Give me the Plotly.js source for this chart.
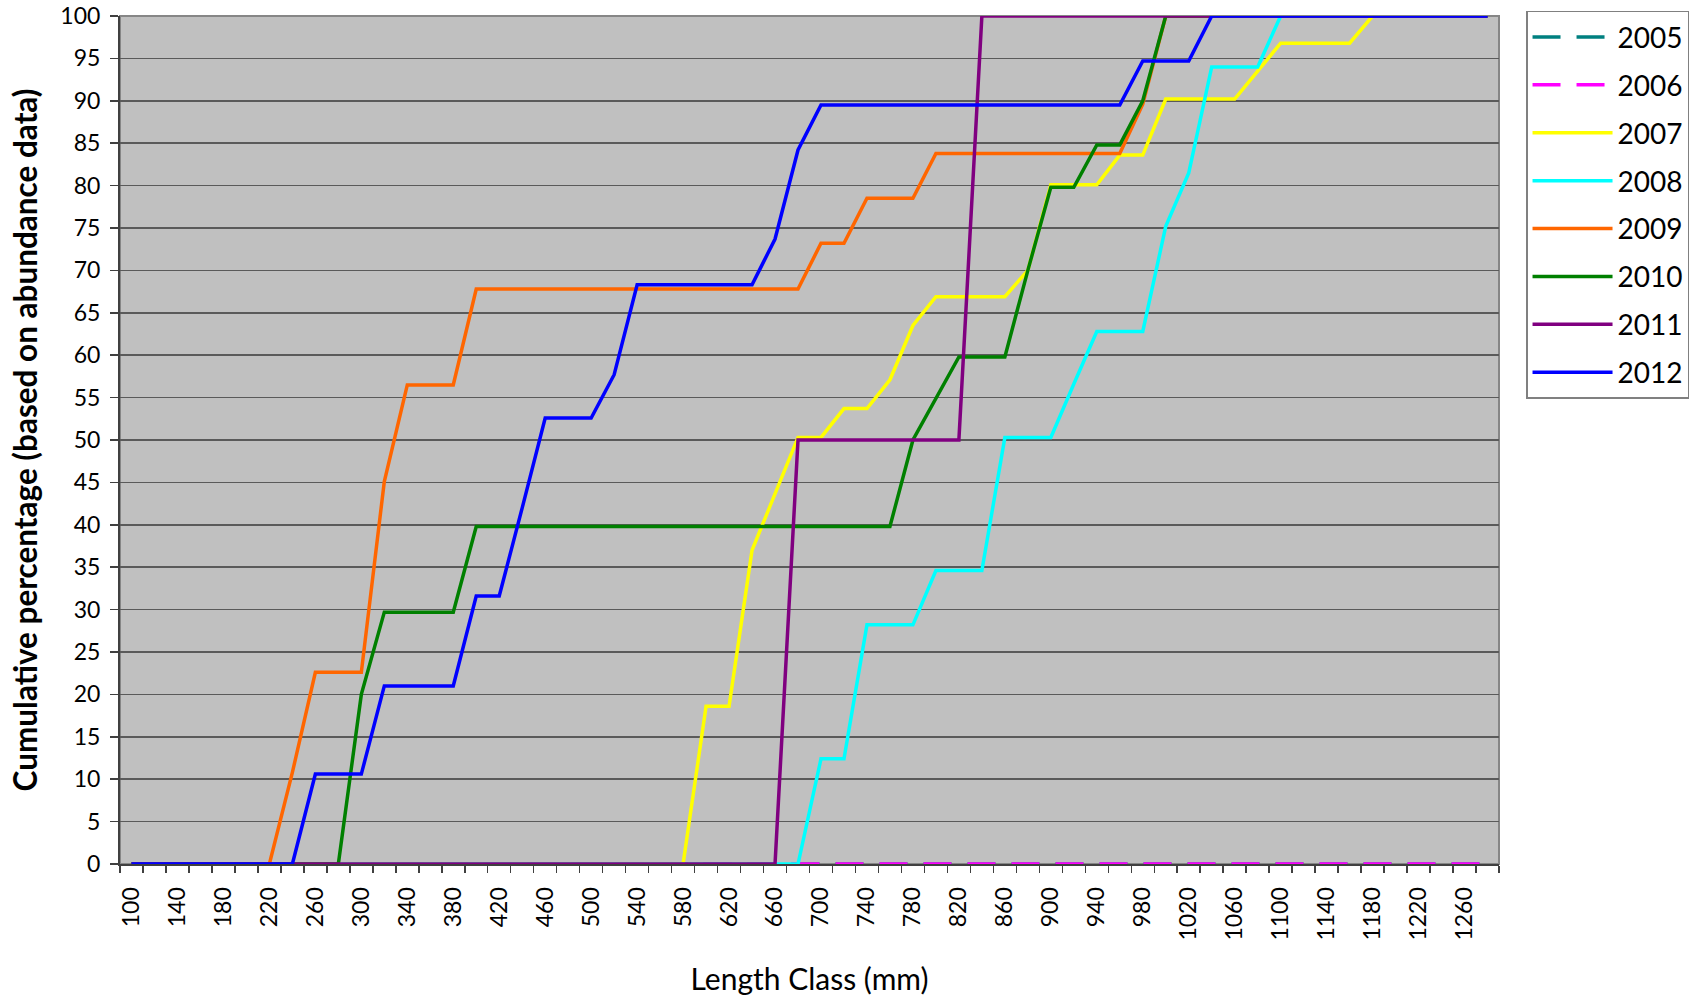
<!DOCTYPE html>
<html>
<head>
<meta charset="utf-8">
<script src="https://cdn.plot.ly/plotly-3.0.1.min.js"></script>
<style>
  html, body { margin: 0; padding: 0; background: #ffffff; }
  #chart { width: 1702px; height: 996px; }
</style>
</head>
<body>
<div id="chart"></div>
<script>
// Length classes (mm), one category every 20 mm
const lengthClasses = [100,120,140,160,180,200,220,240,260,280,300,320,340,360,380,400,420,440,460,480,
  500,520,540,560,580,600,620,640,660,680,700,720,740,760,780,800,820,840,860,880,
  900,920,940,960,980,1000,1020,1040,1060,1080,1100,1120,1140,1160,1180,1200,1220,1240,1260,1280];

// Tick labels shown on the x axis
const xTickLabels = [100,140,180,220,260,300,340,380,420,460,500,540,580,620,660,700,740,780,820,860,
  900,940,980,1020,1060,1100,1140,1180,1220,1260];

const seriesNames = ['2005','2006','2007','2008','2009','2010','2011','2012'];

// Cumulative percentage per length class
const y2005 = [0,0,0,0,0,0,0,0,0,0,0,0,0,0,0,0,0,0,0,0,
  0,0,0,0,0,0,0,0,0,0,0,0,0,0,0,0,0,0,0,0,
  0,0,0,0,0,0,0,0,0,0,0,0,0,0,0,0,0,0,0,0];
const y2006 = [0,0,0,0,0,0,0,0,0,0,0,0,0,0,0,0,0,0,0,0,
  0,0,0,0,0,0,0,0,0,0,0,0,0,0,0,0,0,0,0,0,
  0,0,0,0,0,0,0,0,0,0,0,0,0,0,0,0,0,0,0,0];
const y2007 = [0,0,0,0,0,0,0,0,0,0,0,0,0,0,0,0,0,0,0,0,
  0,0,0,0,0,18.6,18.6,37.0,43.7,50.3,50.3,53.7,53.7,57.1,63.5,66.9,66.9,66.9,66.9,70.0,
  80.1,80.1,80.1,83.6,83.6,90.2,90.2,90.2,90.2,93.5,96.8,96.8,96.8,96.8,100,100,100,100,100,100];
const y2008 = [0,0,0,0,0,0,0,0,0,0,0,0,0,0,0,0,0,0,0,0,
  0,0,0,0,0,0,0,0,0,0,12.4,12.4,28.2,28.2,28.2,34.6,34.6,34.6,50.3,50.3,
  50.3,56.6,62.8,62.8,62.8,75.2,81.5,94.0,94.0,94.0,100,100,100,100,100,100,100,100,100,100];
const y2009 = [0,0,0,0,0,0,0,10.8,22.6,22.6,22.6,45.1,56.5,56.5,56.5,67.8,67.8,67.8,67.8,67.8,
  67.8,67.8,67.8,67.8,67.8,67.8,67.8,67.8,67.8,67.8,73.2,73.2,78.5,78.5,78.5,83.8,83.8,83.8,83.8,83.8,
  83.8,83.8,83.8,83.8,89.6,100,100,100,100,100,100,100,100,100,100,100,100,100,100,100];
const y2010 = [0,0,0,0,0,0,0,0,0,0,20.0,29.7,29.7,29.7,29.7,39.8,39.8,39.8,39.8,39.8,
  39.8,39.8,39.8,39.8,39.8,39.8,39.8,39.8,39.8,39.8,39.8,39.8,39.8,39.8,50.0,55.0,59.8,59.8,59.8,70.0,
  79.8,79.8,84.8,84.8,90.0,100,100,100,100,100,100,100,100,100,100,100,100,100,100,100];
const y2011 = [0,0,0,0,0,0,0,0,0,0,0,0,0,0,0,0,0,0,0,0,
  0,0,0,0,0,0,0,0,0,50,50,50,50,50,50,50,50,100,100,100,
  100,100,100,100,100,100,100,100,100,100,100,100,100,100,100,100,100,100,100,100];
const y2012 = [0,0,0,0,0,0,0,0,10.6,10.6,10.6,21.0,21.0,21.0,21.0,31.6,31.6,42.0,52.6,52.6,
  52.6,57.7,68.3,68.3,68.3,68.3,68.3,68.3,73.7,84.2,89.5,89.5,89.5,89.5,89.5,89.5,89.5,89.5,89.5,89.5,
  89.5,89.5,89.5,89.5,94.7,94.7,94.7,100,100,100,100,100,100,100,100,100,100,100,100,100];

const seriesValues = [y2005, y2006, y2007, y2008, y2009, y2010, y2011, y2012];
const seriesColors = ['#008080','#FF00FF','#FFFF00','#00FFFF','#FF6600','#008000','#800080','#0000FF'];
const seriesDash = ['28px,16px','28px,16px','solid','solid','solid','solid','solid','solid'];

const FONT = 'Lato, "Open Sans", "Liberation Sans", sans-serif';

const traces = seriesNames.map((name, k) => ({
  type: 'scatter',
  mode: 'lines',
  name: name,
  legendgroup: name,
  x: lengthClasses,
  y: seriesValues[k],
  line: { color: seriesColors[k], width: 3.5, dash: seriesDash[k] },
  hoverinfo: 'x+y+name'
}));

const layout = {
  width: 1702,
  height: 996,
  margin: { l: 120, r: 203, t: 15, b: 132, pad: 0 },
  paper_bgcolor: '#ffffff',
  plot_bgcolor: '#C0C0C0',
  font: { family: FONT, color: '#000000', size: 23 },
  showlegend: true,
  legend: {
    x: 1.0196, xanchor: 'left',
    y: 1.005, yanchor: 'top',
    bgcolor: '#ffffff',
    bordercolor: '#808080',
    borderwidth: 1.5,
    font: { family: FONT, size: 28, color: '#000000' },
    traceorder: 'grouped',
    tracegroupgap: 8.5,
    itemwidth: 80
  },
  xaxis: {
    type: 'linear',
    range: [90, 1290],
    tickmode: 'array',
    tickvals: xTickLabels,
    ticktext: xTickLabels.map(String),
    ticks: '',
    tickangle: -90,
    tickfont: { family: FONT, size: 23, color: '#000000' },
    ticklabelstandoff: 12,
    minor: { tick0: 90, dtick: 20, ticks: 'outside', ticklen: 7, tickcolor: '#404040', tickwidth: 1.5, showgrid: false },
    showgrid: false,
    zeroline: false,
    showline: true,
    linecolor: '#404040',
    linewidth: 2,
    fixedrange: true,
    title: { text: 'Length Class (mm)', font: { family: FONT, size: 30, color: '#000000' }, standoff: 30 }
  },
  yaxis: {
    range: [0, 100],
    tickmode: 'linear',
    tick0: 0,
    dtick: 5,
    ticks: 'outside',
    ticklen: 8,
    tickcolor: '#404040',
    tickwidth: 1.5,
    tickfont: { family: FONT, size: 23, color: '#000000' },
    ticklabelstandoff: 5,
    showgrid: true,
    gridcolor: '#5a5a5a',
    gridwidth: 1.5,
    zeroline: false,
    showline: true,
    linecolor: '#404040',
    linewidth: 2,
    fixedrange: true,
    title: { text: '<b>Cumulative percentage (based on abundance data)</b>', font: { family: FONT, size: 31.5, color: '#000000' }, standoff: 13 }
  },
  shapes: [{
    type: 'rect', xref: 'paper', yref: 'paper', x0: 0, x1: 1, y0: 0, y1: 1,
    line: { color: '#868686', width: 2 }, layer: 'below'
  }]
};

Plotly.newPlot('chart', traces, layout, { staticPlot: true, displayModeBar: false });
</script>
</body>
</html>
